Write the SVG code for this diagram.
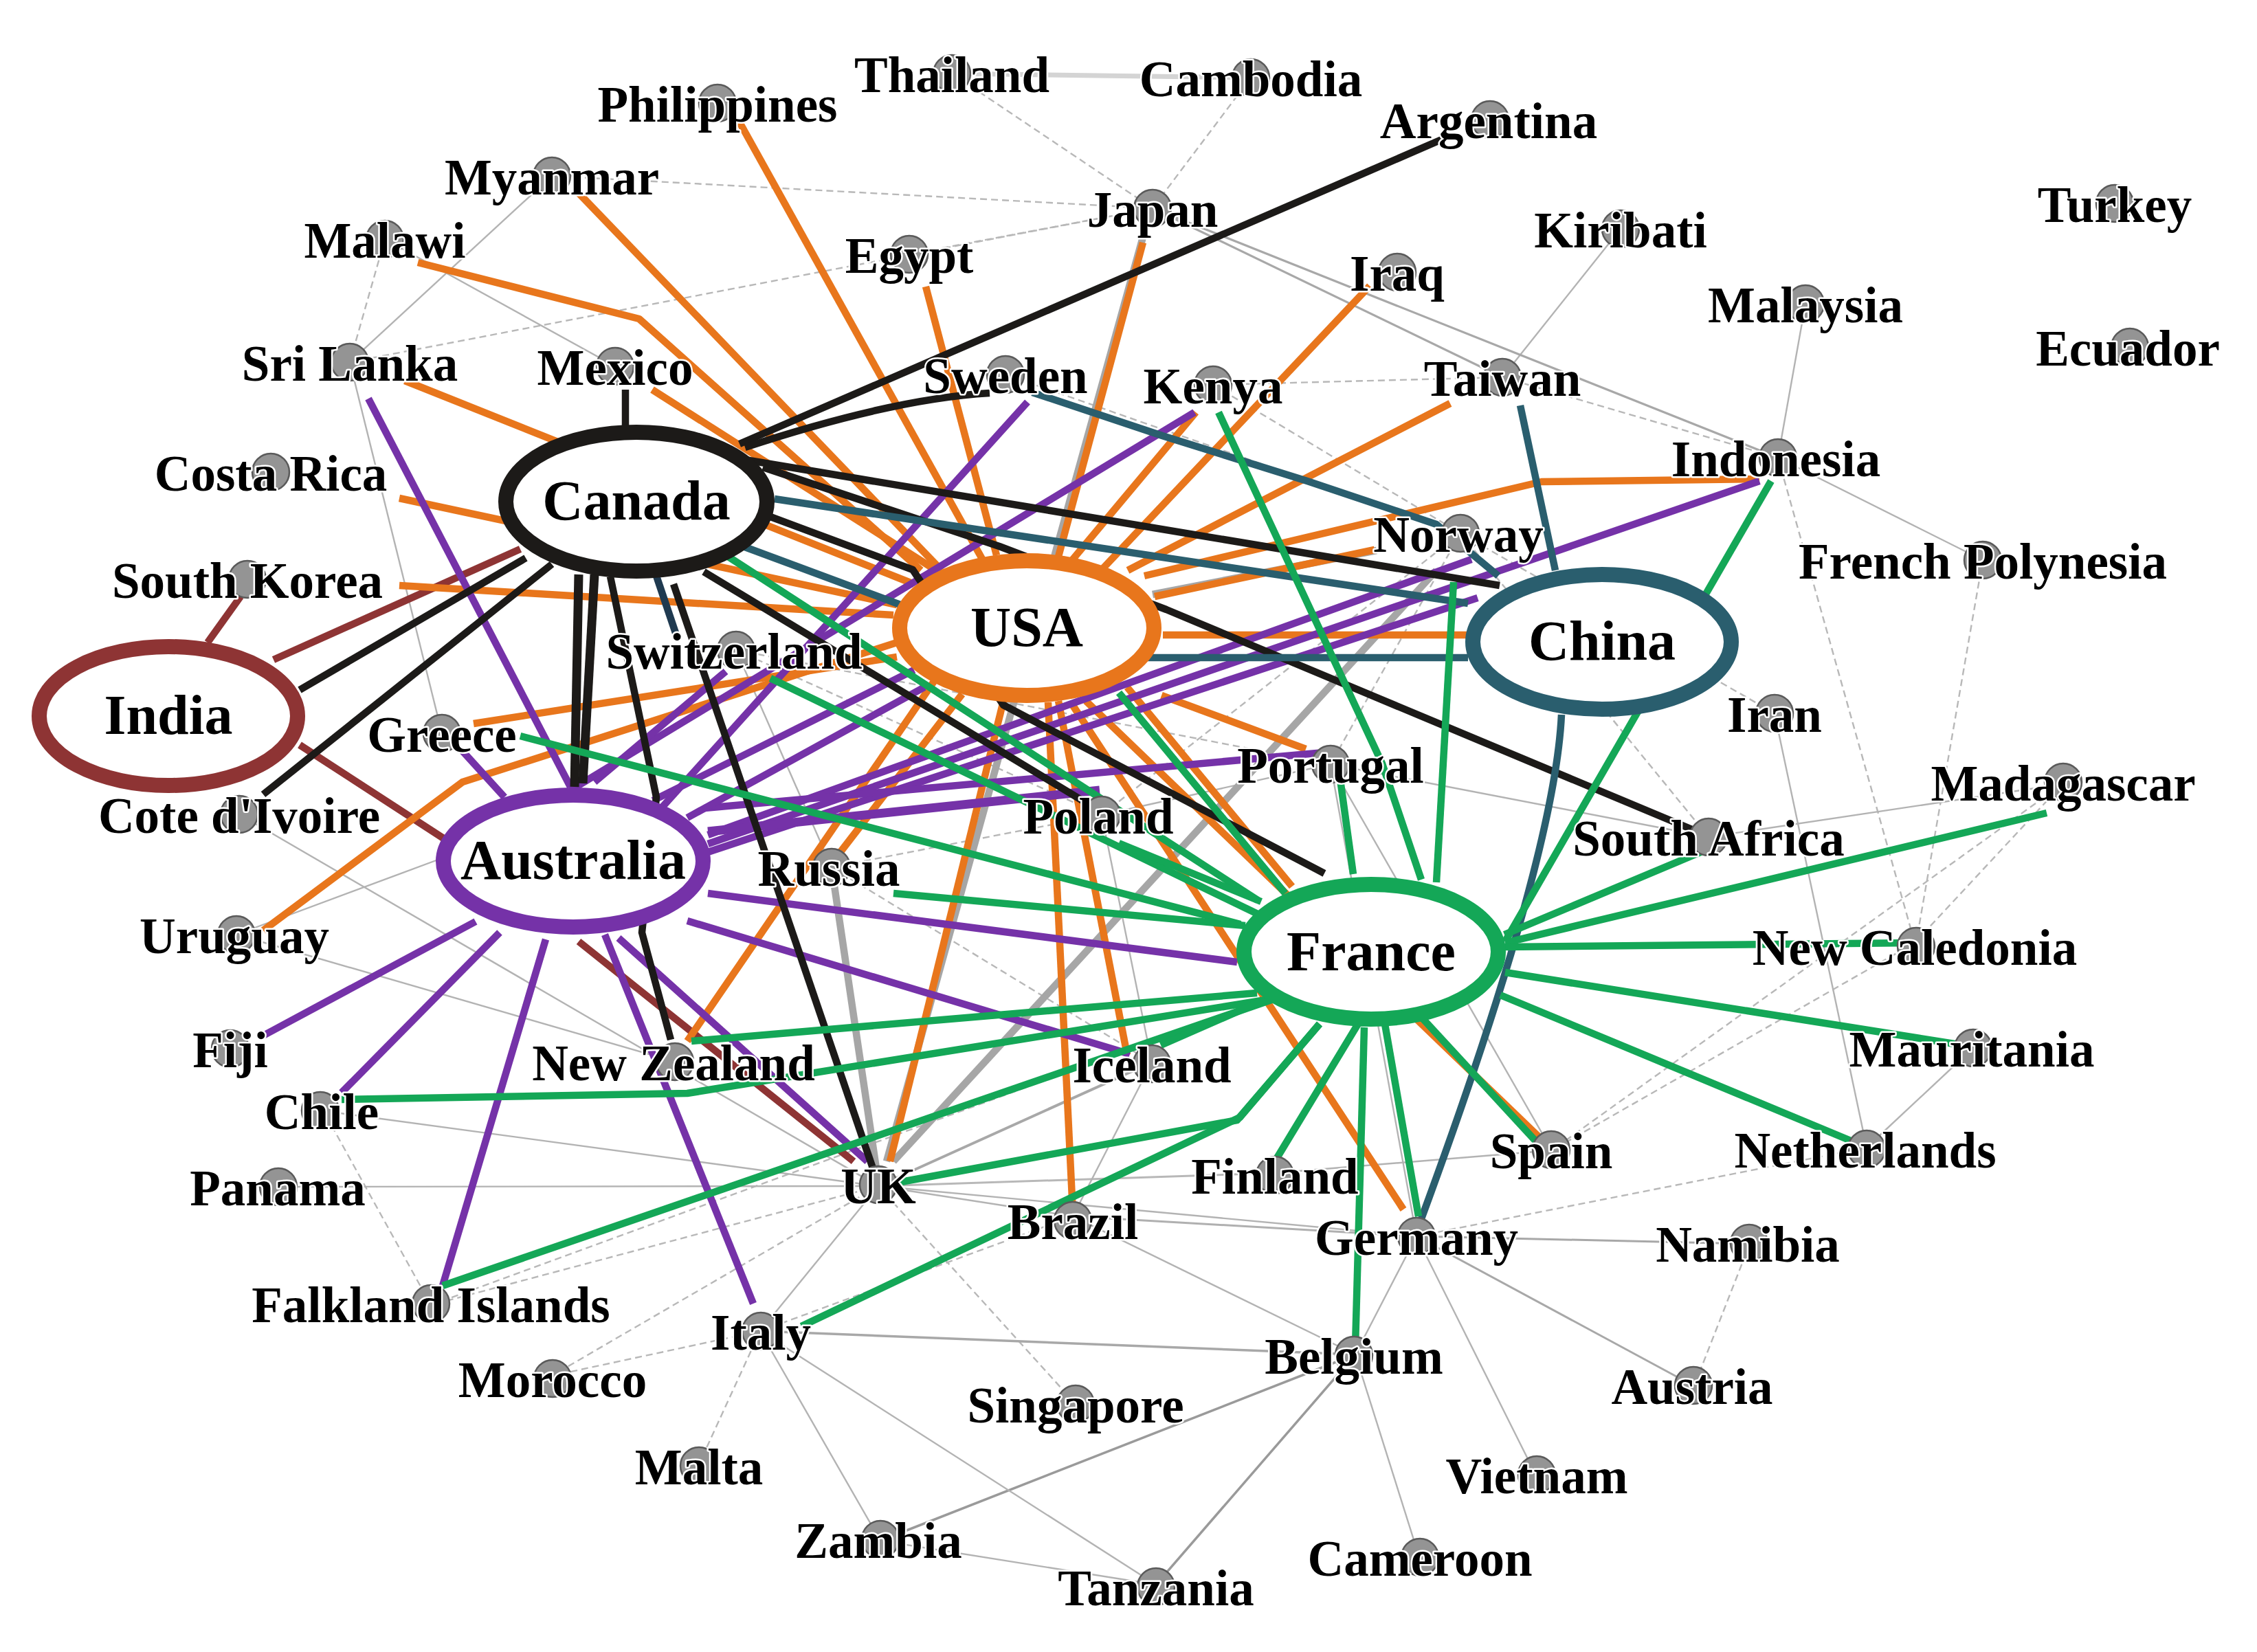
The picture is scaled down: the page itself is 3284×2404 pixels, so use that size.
<svg xmlns="http://www.w3.org/2000/svg" width="3284" height="2404" viewBox="0 0 3284 2404">
<style>
.th{fill:none;stroke:#b3b3b3;stroke-width:2.4}
.td{fill:none;stroke:#b8b8b8;stroke-width:2.4;stroke-dasharray:10 6}
.e{fill:none;stroke-width:10.5;stroke-linejoin:round}
.o{stroke:#E8761C}.p{stroke:#7532A8}.k{stroke:#1c1a18}.t{stroke:#2A5E6E}.g{stroke:#14A757}.r{stroke:#8E3434}.gy{stroke:#a6a6a6}
.hub{fill:#fff;stroke-width:22}
.n{fill:#949494;stroke:#5a5a5a;stroke-width:2.5}
.lb{font-family:"Liberation Serif","Times New Roman",serif;font-weight:bold;font-size:73px;text-anchor:middle;fill:#000;stroke:#fff;stroke-width:5;stroke-linejoin:round;paint-order:stroke}
.hl{font-size:82px;stroke:none}
</style>
<rect width="3284" height="2404" fill="#fff"/>
<g id="edges">
<g id="thin-edges">
<line x1="1385" y1="107" x2="1820" y2="113" style="fill:none;stroke:#d4d4d4;stroke-width:7"/>
<line class="td" x1="1385" y1="107" x2="1677" y2="303"/>
<line class="td" x1="1820" y1="113" x2="1677" y2="303"/>
<line class="td" x1="803" y1="256" x2="1677" y2="303"/>
<line class="td" x1="1323" y1="370" x2="1677" y2="303"/>
<line class="td" x1="509" y1="527" x2="1677" y2="303"/>
<line class="td" x1="560" y1="348" x2="509" y2="527"/>
<line class="th" x1="803" y1="256" x2="509" y2="527"/>
<line class="td" x1="1765" y1="560" x2="2186" y2="549"/>
<line class="td" x1="2186" y1="549" x2="2587" y2="666"/>
<line class="td" x1="3001" y1="1141" x2="2786" y2="1372"/>
<line class="td" x1="3001" y1="1141" x2="2258" y2="1674"/>
<line class="td" x1="2786" y1="1372" x2="2258" y2="1674"/>
<line class="td" x1="2885" y1="815" x2="2788" y2="1372"/>
<line class="td" x1="2546" y1="1810" x2="2465" y2="2017"/>
<line class="td" x1="2061" y1="1799" x2="2716" y2="1670"/>
<line class="td" x1="1278" y1="1726" x2="1565" y2="2043"/>
<line class="td" x1="1106" y1="1937" x2="1016" y2="2133"/>
<line class="td" x1="1106" y1="1937" x2="803" y2="2002"/>
<line class="td" x1="1278" y1="1726" x2="803" y2="2002"/>
<line class="td" x1="1278" y1="1726" x2="627" y2="1899"/>
<line class="td" x1="467" y1="1610" x2="627" y2="1899"/>
<line class="td" x1="1106" y1="1937" x2="1561" y2="1770"/>
<line class="td" x1="2125" y1="776" x2="1936" y2="1112"/>
<line class="td" x1="1210" y1="1262" x2="1603" y2="1186"/>
<line class="td" x1="1071" y1="946" x2="1603" y2="1186"/>
<line class="td" x1="2125" y1="776" x2="2486" y2="1218"/>
<line class="td" x1="2582" y1="1038" x2="2125" y2="776"/>
<line class="td" x1="1603" y1="1186" x2="2125" y2="776"/>
<line class="td" x1="1765" y1="560" x2="2125" y2="776"/>
<line class="td" x1="1210" y1="1262" x2="1676" y2="1546"/>
<line class="td" x1="627" y1="1899" x2="1800" y2="1470"/>
<line class="td" x1="2587" y1="666" x2="2786" y2="1372"/>
<line class="td" x1="1071" y1="946" x2="1936" y2="1112"/>
<line class="td" x1="1463" y1="545" x2="2125" y2="776"/>
<line class="th" x1="2358" y1="333" x2="2186" y2="549"/>
<line class="th" x1="2627" y1="442" x2="2587" y2="666"/>
<line class="th" x1="2587" y1="666" x2="2885" y2="815"/>
<line class="th" style="stroke:#a8a8a8;stroke-width:3.2" x1="1677" y1="303" x2="2186" y2="549"/>
<line class="th" style="stroke:#a8a8a8;stroke-width:3.2" x1="1677" y1="303" x2="2587" y2="666"/>
<line class="th" x1="560" y1="348" x2="895" y2="533"/>
<line class="th" x1="2582" y1="1038" x2="2716" y2="1670"/>
<line class="th" x1="2486" y1="1218" x2="3001" y2="1141"/>
<line class="th" x1="2871" y1="1525" x2="2716" y2="1670"/>
<line class="th" style="stroke:#a8a8a8;stroke-width:3" x1="2061" y1="1799" x2="2546" y2="1810"/>
<line class="th" style="stroke:#a8a8a8;stroke-width:3" x1="2061" y1="1799" x2="2465" y2="2017"/>
<line class="th" x1="2061" y1="1799" x2="2236" y2="2149"/>
<line class="th" x1="2061" y1="1799" x2="1972" y2="1971"/>
<line class="th" x1="1972" y1="1971" x2="2066" y2="2269"/>
<line class="th" style="stroke:#9a9a9a;stroke-width:3.5" x1="1972" y1="1971" x2="1682" y2="2306"/>
<line class="th" style="stroke:#9a9a9a;stroke-width:3.5" x1="1972" y1="1971" x2="1281" y2="2242"/>
<line class="th" style="stroke:#a8a8a8;stroke-width:3.5" x1="1106" y1="1937" x2="1972" y2="1971"/>
<line class="th" x1="1561" y1="1770" x2="1972" y2="1971"/>
<line class="th" style="stroke:#b0b0b0;stroke-width:3" x1="1561" y1="1770" x2="2061" y2="1799"/>
<line class="th" x1="1854" y1="1707" x2="2258" y2="1674"/>
<line class="th" x1="1106" y1="1937" x2="1281" y2="2242"/>
<line class="th" x1="1106" y1="1937" x2="1682" y2="2306"/>
<line class="th" x1="1281" y1="2242" x2="1682" y2="2306"/>
<line class="th" x1="1106" y1="1937" x2="1278" y2="1726"/>
<line class="th" x1="405" y1="1727" x2="1278" y2="1726"/>
<line class="th" x1="466" y1="1616" x2="1278" y2="1726"/>
<line class="th" x1="348" y1="1185" x2="1278" y2="1726"/>
<line class="th" x1="344" y1="1360" x2="982" y2="1545"/>
<line class="th" x1="344" y1="1360" x2="640" y2="1250"/>
<line class="th" x1="509" y1="527" x2="643" y2="1067"/>
<line class="th" style="stroke:#b8b8b8;stroke-width:3" x1="1278" y1="1726" x2="1854" y2="1707"/>
<line class="th" x1="1278" y1="1726" x2="1561" y2="1770"/>
<line class="th" x1="1278" y1="1726" x2="2061" y2="1799"/>
<line class="th" style="stroke:#a8a8a8;stroke-width:4" x1="1278" y1="1726" x2="1676" y2="1546"/>
<line class="th" x1="1561" y1="1770" x2="1676" y2="1546"/>
<line class="th" x1="1936" y1="1112" x2="1603" y2="1186"/>
<line class="th" x1="1936" y1="1112" x2="2486" y2="1218"/>
<line class="th" x1="1936" y1="1112" x2="2061" y2="1799"/>
<line class="th" x1="1936" y1="1112" x2="2258" y2="1674"/>
<line class="th" x1="1603" y1="1186" x2="1676" y2="1546"/>
<line class="th" x1="1071" y1="946" x2="1210" y2="1262"/>
</g>
<g id="gray-edges" class="e gy">
<line x1="1300" y1="1690" x2="2090" y2="830"/>
<line x1="1663" y1="345" x2="1290" y2="1690"/>
<line x1="1677" y1="865" x2="2003" y2="801"/>
<line x1="1210" y1="1262" x2="1275" y2="1700"/>
</g>
<g id="india-edges" class="e r">
<line x1="302" y1="935" x2="350" y2="868"/>
<line x1="398" y1="960" x2="757" y2="799"/>
<line x1="436" y1="1084" x2="650" y2="1223"/>
<line x1="842" y1="1370" x2="1242" y2="1690"/>
</g>
<g id="usa-edges" class="e o">
<line x1="1075" y1="176" x2="1430" y2="815"/>
<line x1="842" y1="281" x2="1370" y2="830"/>
<polyline points="608,382 930,464 1340,830"/>
<line x1="1347" y1="417" x2="1450" y2="808"/>
<line x1="1663" y1="353" x2="1540" y2="810"/>
<line x1="1993" y1="416" x2="1604" y2="828"/>
<line x1="1740" y1="600" x2="1560" y2="815"/>
<line x1="2110" y1="587" x2="1641" y2="830"/>
<polyline points="2560,697 2243,701 1665,838"/>
<line x1="2000" y1="800" x2="1680" y2="868"/>
<line x1="1692" y1="924" x2="2141" y2="924"/>
<line x1="1690" y1="1012" x2="1900" y2="1090"/>
<line x1="1580" y1="1020" x2="2245" y2="1660"/>
<line x1="1560" y1="1025" x2="2042" y2="1760"/>
<line x1="1640" y1="1000" x2="1880" y2="1290"/>
<line x1="1525" y1="1022" x2="1561" y2="1765"/>
<line x1="1540" y1="1020" x2="1640" y2="1535"/>
<line x1="1460" y1="1020" x2="1295" y2="1690"/>
<line x1="1000" y1="1515" x2="1360" y2="990"/>
<line x1="1215" y1="1250" x2="1400" y2="1010"/>
<polyline points="383,1354 673,1138 1305,935"/>
<line x1="689" y1="1053" x2="1305" y2="956"/>
<line x1="581" y1="852" x2="1300" y2="895"/>
<line x1="581" y1="725" x2="1305" y2="880"/>
<line x1="589" y1="554" x2="1330" y2="850"/>
<line x1="949" y1="567" x2="1370" y2="835"/>
</g>
<g id="australia-edges" class="e p">
<line x1="536" y1="580" x2="830" y2="1145"/>
<line x1="673" y1="1093" x2="734" y2="1160"/>
<line x1="383" y1="1507" x2="692" y2="1341"/>
<line x1="497" y1="1590" x2="727" y2="1357"/>
<line x1="644" y1="1871" x2="794" y2="1367"/>
<line x1="1096" y1="1897" x2="880" y2="1360"/>
<line x1="900" y1="1365" x2="1262" y2="1690"/>
<line x1="1738" y1="600" x2="830" y2="1150"/>
<line x1="1495" y1="585" x2="964" y2="1174"/>
<line x1="2560" y1="700" x2="1030" y2="1228"/>
<line x1="2141" y1="814" x2="1030" y2="1215"/>
<line x1="2150" y1="870" x2="1030" y2="1240"/>
<line x1="1927" y1="1095" x2="1025" y2="1176"/>
<line x1="1600" y1="1150" x2="1030" y2="1210" style="stroke-width:13"/>
<line x1="1000" y1="1340" x2="1644" y2="1534"/>
<line x1="1030" y1="1300" x2="1800" y2="1400"/>
<line x1="865" y1="1138" x2="1056" y2="977"/>
<line x1="950" y1="1165" x2="1330" y2="975"/>
<line x1="1000" y1="1190" x2="1345" y2="1000"/>
</g>
<g id="canada-edges" class="e k">
<line x1="910" y1="567" x2="910" y2="628"/>
<line x1="1076" y1="646" x2="2100" y2="202"/>
<path d="M1084,651 Q1300,580 1440,572"/>
<line x1="1084" y1="669" x2="2182" y2="852"/>
<polyline points="1110,680 1454,795 1697,887 2462,1207"/>
<polyline points="1121,752 1328,829 1460,1026 1927,1271"/>
<line x1="1024" y1="832" x2="1575" y2="1165"/>
<line x1="842" y1="836" x2="836" y2="1145" style="stroke-width:13"/>
<line x1="865" y1="836" x2="848" y2="1140" style="stroke-width:13"/>
<polyline points="888,839 955,1160 934,1357 976,1513"/>
<line x1="980" y1="850" x2="1270" y2="1700"/>
<line x1="765" y1="812" x2="436" y2="1004"/>
<line x1="803" y1="821" x2="383" y2="1156"/>
</g>
<g id="china-edges" class="e t">
<line x1="2212" y1="590" x2="2263" y2="830"/>
<polyline points="1502,571 1691,634 1902,700 2090,763 2180,838"/>
<line x1="1127" y1="726" x2="2136" y2="878"/>
<line x1="1661" y1="957" x2="2136" y2="957"/>
<path d="M2272,1040 Q2262,1250 2062,1790"/>
<line x1="1081" y1="795" x2="1310" y2="880"/>
<line x1="955" y1="838" x2="984" y2="924" style="stroke:#1f3a50"/>
</g>
<g id="france-edges" class="e g">
<polyline points="1773,600 2011,1111 2068,1280"/>
<line x1="1950" y1="1134" x2="1969" y2="1272"/>
<line x1="2115" y1="847" x2="2090" y2="1284"/>
<line x1="2577" y1="700" x2="2190" y2="1370"/>
<line x1="2477" y1="1239" x2="2189" y2="1360"/>
<line x1="2978" y1="1183" x2="2190" y2="1372"/>
<line x1="2190" y1="1378" x2="2786" y2="1372"/>
<line x1="2190" y1="1415" x2="2850" y2="1520"/>
<line x1="2183" y1="1448" x2="2705" y2="1665"/>
<line x1="2068" y1="1480" x2="2245" y2="1672"/>
<line x1="2015" y1="1490" x2="2064" y2="1770"/>
<line x1="1985" y1="1495" x2="1972" y2="1960"/>
<line x1="1976" y1="1490" x2="1855" y2="1690"/>
<polyline points="1166,1930 1804,1626 1920,1490"/>
<polyline points="1300,1722 1800,1630 1920,1490"/>
<line x1="644" y1="1871" x2="1850" y2="1455"/>
<polyline points="497,1600 1000,1591 1848,1454"/>
<line x1="1006" y1="1515" x2="1829" y2="1445"/>
<line x1="1689" y1="1521" x2="1835" y2="1457"/>
<line x1="757" y1="1071" x2="1805" y2="1345"/>
<line x1="1300" y1="1300" x2="1812" y2="1347"/>
<line x1="1121" y1="987" x2="1830" y2="1330"/>
<line x1="1058" y1="809" x2="1830" y2="1310"/>
<line x1="1628" y1="1008" x2="1870" y2="1300"/>
<line x1="1628" y1="1227" x2="1835" y2="1312"/>
</g>
</g>
<g id="hubs">
<g id="n-canada"><ellipse class="hub k" cx="926" cy="730" rx="190" ry="101"/><text class="lb hl" x="926" y="756">Canada</text></g>
<g id="n-india"><ellipse class="hub r" cx="245" cy="1042" rx="188" ry="101"/><text class="lb hl" x="245" y="1068">India</text></g>
<g id="n-usa"><ellipse class="hub o" cx="1494" cy="914" rx="185" ry="98"/><text class="lb hl" x="1494" y="940">USA</text></g>
<g id="n-china"><ellipse class="hub t" cx="2331" cy="934" rx="188" ry="98"/><text class="lb hl" x="2331" y="960">China</text></g>
<g id="n-australia"><ellipse class="hub p" cx="834" cy="1253" rx="189" ry="96"/><text class="lb hl" x="834" y="1279">Australia</text></g>
<g id="n-france"><ellipse class="hub g" cx="1995" cy="1385" rx="185" ry="98"/><text class="lb hl" x="1995" y="1412">France</text></g>
</g>
<g id="nodes">
<g id="n-thailand"><circle class="n" cx="1385" cy="107" r="27"/><text class="lb" x="1385" y="134">Thailand</text></g>
<g id="n-cambodia"><circle class="n" cx="1820" cy="113" r="27"/><text class="lb" x="1820" y="140">Cambodia</text></g>
<g id="n-philippines"><circle class="n" cx="1044" cy="150" r="27"/><text class="lb" x="1044" y="177">Philippines</text></g>
<g id="n-argentina"><circle class="n" cx="2168" cy="174" r="27"/><text class="lb" x="2166" y="201">Argentina</text></g>
<g id="n-myanmar"><circle class="n" cx="803" cy="256" r="27"/><text class="lb" x="803" y="283">Myanmar</text></g>
<g id="n-japan"><circle class="n" cx="1677" cy="303" r="27"/><text class="lb" x="1677" y="330">Japan</text></g>
<g id="n-kiribati"><circle class="n" cx="2358" cy="333" r="27"/><text class="lb" x="2358" y="360">Kiribati</text></g>
<g id="n-turkey"><circle class="n" cx="3077" cy="296" r="27"/><text class="lb" x="3077" y="323">Turkey</text></g>
<g id="n-malawi"><circle class="n" cx="560" cy="348" r="27"/><text class="lb" x="560" y="375">Malawi</text></g>
<g id="n-egypt"><circle class="n" cx="1323" cy="370" r="27"/><text class="lb" x="1323" y="397">Egypt</text></g>
<g id="n-iraq"><circle class="n" cx="2033" cy="396" r="27"/><text class="lb" x="2033" y="423">Iraq</text></g>
<g id="n-malaysia"><circle class="n" cx="2627" cy="442" r="27"/><text class="lb" x="2627" y="469">Malaysia</text></g>
<g id="n-ecuador"><circle class="n" cx="3099" cy="505" r="27"/><text class="lb" x="3096" y="532">Ecuador</text></g>
<g id="n-srilanka"><circle class="n" cx="509" cy="527" r="27"/><text class="lb" x="509" y="554">Sri Lanka</text></g>
<g id="n-mexico"><circle class="n" cx="895" cy="533" r="27"/><text class="lb" x="895" y="560">Mexico</text></g>
<g id="n-sweden"><circle class="n" cx="1463" cy="545" r="27"/><text class="lb" x="1463" y="572">Sweden</text></g>
<g id="n-kenya"><circle class="n" cx="1765" cy="560" r="27"/><text class="lb" x="1765" y="587">Kenya</text></g>
<g id="n-taiwan"><circle class="n" cx="2186" cy="549" r="27"/><text class="lb" x="2186" y="576">Taiwan</text></g>
<g id="n-indonesia"><circle class="n" cx="2587" cy="666" r="27"/><text class="lb" x="2584" y="693">Indonesia</text></g>
<g id="n-costarica"><circle class="n" cx="394" cy="687" r="27"/><text class="lb" x="394" y="714">Costa Rica</text></g>
<g id="n-norway"><circle class="n" cx="2125" cy="776" r="27"/><text class="lb" x="2122" y="803">Norway</text></g>
<g id="n-frenchpolynesia"><circle class="n" cx="2885" cy="815" r="27"/><text class="lb" x="2885" y="842">French Polynesia</text></g>
<g id="n-southkorea"><circle class="n" cx="360" cy="843" r="27"/><text class="lb" x="360" y="870">South Korea</text></g>
<g id="n-switzerland"><circle class="n" cx="1071" cy="946" r="27"/><text class="lb" x="1068" y="973">Switzerland</text></g>
<g id="n-iran"><circle class="n" cx="2582" cy="1038" r="27"/><text class="lb" x="2582" y="1065">Iran</text></g>
<g id="n-greece"><circle class="n" cx="643" cy="1067" r="27"/><text class="lb" x="643" y="1094">Greece</text></g>
<g id="n-portugal"><circle class="n" cx="1936" cy="1112" r="27"/><text class="lb" x="1936" y="1139">Portugal</text></g>
<g id="n-madagascar"><circle class="n" cx="3002" cy="1138" r="27"/><text class="lb" x="3002" y="1165">Madagascar</text></g>
<g id="n-cotedivoire"><circle class="n" cx="348" cy="1185" r="27"/><text class="lb" x="348" y="1212">Cote d'Ivoire</text></g>
<g id="n-poland"><circle class="n" cx="1603" cy="1186" r="27"/><text class="lb" x="1598" y="1213">Poland</text></g>
<g id="n-southafrica"><circle class="n" cx="2486" cy="1218" r="27"/><text class="lb" x="2486" y="1245">South Africa</text></g>
<g id="n-russia"><circle class="n" cx="1210" cy="1262" r="27"/><text class="lb" x="1206" y="1289">Russia</text></g>
<g id="n-uruguay"><circle class="n" cx="344" cy="1360" r="27"/><text class="lb" x="341" y="1387">Uruguay</text></g>
<g id="n-newcaledonia"><circle class="n" cx="2788" cy="1377" r="27"/><text class="lb" x="2786" y="1404">New Caledonia</text></g>
<g id="n-fiji"><circle class="n" cx="335" cy="1526" r="27"/><text class="lb" x="335" y="1553">Fiji</text></g>
<g id="n-mauritania"><circle class="n" cx="2871" cy="1525" r="27"/><text class="lb" x="2869" y="1552">Mauritania</text></g>
<g id="n-newzealand"><circle class="n" cx="982" cy="1545" r="27"/><text class="lb" x="980" y="1572">New Zealand</text></g>
<g id="n-iceland"><circle class="n" cx="1676" cy="1548" r="27"/><text class="lb" x="1676" y="1575">Iceland</text></g>
<g id="n-chile"><circle class="n" cx="466" cy="1616" r="27"/><text class="lb" x="468" y="1643">Chile</text></g>
<g id="n-netherlands"><circle class="n" cx="2716" cy="1672" r="27"/><text class="lb" x="2714" y="1699">Netherlands</text></g>
<g id="n-spain"><circle class="n" cx="2257" cy="1673" r="27"/><text class="lb" x="2257" y="1700">Spain</text></g>
<g id="n-panama"><circle class="n" cx="405" cy="1727" r="27"/><text class="lb" x="404" y="1754">Panama</text></g>
<g id="n-uk"><circle class="n" cx="1278" cy="1724" r="27"/><text class="lb" x="1278" y="1751">UK</text></g>
<g id="n-finland"><circle class="n" cx="1855" cy="1710" r="27"/><text class="lb" x="1855" y="1737">Finland</text></g>
<g id="n-brazil"><circle class="n" cx="1561" cy="1776" r="27"/><text class="lb" x="1561" y="1803">Brazil</text></g>
<g id="n-germany"><circle class="n" cx="2061" cy="1799" r="27"/><text class="lb" x="2061" y="1826">Germany</text></g>
<g id="n-namibia"><circle class="n" cx="2545" cy="1809" r="27"/><text class="lb" x="2543" y="1836">Namibia</text></g>
<g id="n-falklandislands"><circle class="n" cx="627" cy="1897" r="27"/><text class="lb" x="627" y="1924">Falkland Islands</text></g>
<g id="n-italy"><circle class="n" cx="1107" cy="1937" r="27"/><text class="lb" x="1107" y="1964">Italy</text></g>
<g id="n-morocco"><circle class="n" cx="804" cy="2006" r="27"/><text class="lb" x="804" y="2033">Morocco</text></g>
<g id="n-belgium"><circle class="n" cx="1970" cy="1972" r="27"/><text class="lb" x="1970" y="1999">Belgium</text></g>
<g id="n-austria"><circle class="n" cx="2464" cy="2016" r="27"/><text class="lb" x="2462" y="2043">Austria</text></g>
<g id="n-singapore"><circle class="n" cx="1565" cy="2043" r="27"/><text class="lb" x="1565" y="2070">Singapore</text></g>
<g id="n-malta"><circle class="n" cx="1017" cy="2133" r="27"/><text class="lb" x="1017" y="2160">Malta</text></g>
<g id="n-vietnam"><circle class="n" cx="2236" cy="2146" r="27"/><text class="lb" x="2236" y="2173">Vietnam</text></g>
<g id="n-zambia"><circle class="n" cx="1281" cy="2240" r="27"/><text class="lb" x="1278" y="2267">Zambia</text></g>
<g id="n-cameroon"><circle class="n" cx="2066" cy="2266" r="27"/><text class="lb" x="2066" y="2293">Cameroon</text></g>
<g id="n-tanzania"><circle class="n" cx="1682" cy="2309" r="27"/><text class="lb" x="1682" y="2336">Tanzania</text></g>
</g>
</svg>
